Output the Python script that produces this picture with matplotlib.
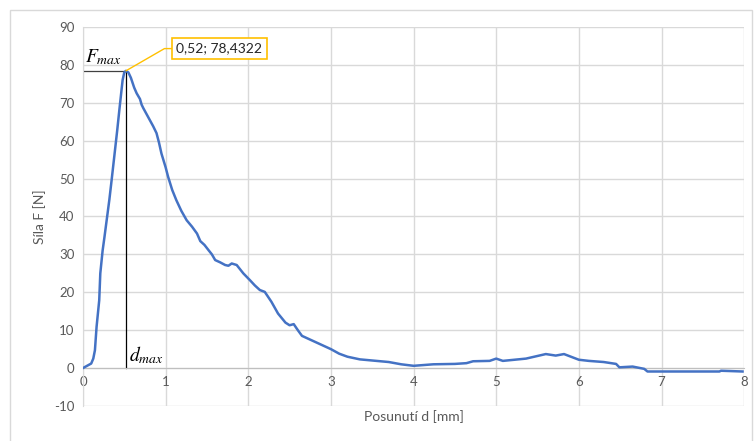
import matplotlib
matplotlib.use("Agg")
import matplotlib.pyplot as plt
from matplotlib.patches import Rectangle

# measured force-displacement curve
posunuti = [0, 0.05, 0.1, 0.125, 0.145, 0.165, 0.197, 0.21, 0.238, 0.26, 0.287, 0.32,
            0.347, 0.38, 0.415, 0.44, 0.46, 0.48, 0.5, 0.52, 0.55, 0.58, 0.62, 0.65,
            0.69, 0.71, 0.73, 0.77, 0.81, 0.85, 0.89, 0.92, 0.95, 1.0, 1.03, 1.08,
            1.13, 1.19, 1.255, 1.32, 1.38, 1.42, 1.47, 1.52, 1.56, 1.6, 1.66, 1.72,
            1.76, 1.8, 1.86, 1.94, 2.02, 2.08, 2.14, 2.2, 2.28, 2.36, 2.45, 2.5,
            2.55, 2.6, 2.65, 2.7, 2.8, 2.9, 3.0, 3.1, 3.2, 3.35, 3.5, 3.7, 3.85,
            4.0, 4.24, 4.5, 4.64, 4.72, 4.92, 5.0, 5.08, 5.36, 5.6, 5.72, 5.82,
            6.0, 6.12, 6.3, 6.45, 6.49, 6.65, 6.79, 6.83, 7.7, 7.72, 7.98]
sila = [0, 0.6, 1.2, 2.5, 4.7, 10.9, 17.9, 25.0, 31.0, 34.5, 39.0, 44.5,
        49.6, 56.0, 62.8, 68.0, 72.0, 76.0, 78.0, 78.4322, 78.0, 76.6, 74.0, 72.5,
        71.0, 69.5, 68.6, 67.0, 65.4, 63.8, 62.0, 59.5, 56.6, 53.0, 50.5, 47.0,
        44.3, 41.5, 39.0, 37.3, 35.5, 33.5, 32.5, 31.1, 30.0, 28.5, 27.9, 27.2,
        27.0, 27.6, 27.2, 25.0, 23.2, 21.8, 20.6, 20.1, 17.5, 14.4, 12.0, 11.3,
        11.6, 10.0, 8.5, 8.0, 7.0, 6.0, 5.0, 3.8, 3.0, 2.3, 2.0, 1.6, 1.0,
        0.6, 1.0, 1.1, 1.3, 1.8, 1.9, 2.5, 1.9, 2.5, 3.7, 3.3, 3.7,
        2.2, 1.9, 1.6, 1.1, 0.2, 0.4, -0.2, -0.9, -0.9, -0.7, -0.9]

d_max = 0.52
F_max = 78.4322

plt.rcParams['font.family'] = ['Lato', 'DejaVu Sans']
plt.rcParams['mathtext.fontset'] = 'stix'
plt.rcParams['axes.unicode_minus'] = False
grey = '#595959'

fig = plt.figure(figsize=(7.54, 4.41), dpi=100)
ax = fig.add_axes([0.110, 0.0794, 0.877, 0.8594])

# chart frame
fig.patches.append(Rectangle((10 / 754, -0.1), 742 / 754, 1.1 - 10 / 441,
                             transform=fig.transFigure, fill=False,
                             edgecolor='#d9d9d9', linewidth=1))

ax.plot(posunuti, sila, color='#4472C4', linewidth=1.8, zorder=3)

# guide lines to the maximum
ax.plot([0, d_max], [F_max, F_max], color='#404040', linewidth=0.9, zorder=2)
ax.plot([d_max, d_max], [0, F_max], color='black', linewidth=0.9, zorder=2)
ax.text(0.02, F_max + 1.0, r'$F_{max}$', fontsize=14, ha='left', va='bottom')
ax.text(d_max + 0.04, 0.6, r'$d_{max}$', fontsize=14, ha='left', va='bottom')

label = f"{d_max:.2f}; {F_max:.4f}".replace('.', ',')
ax.annotate(label, xy=(d_max, F_max), xytext=(1.13, 84.3),
            fontsize=10, color='#262626', va='center', ha='left',
            bbox=dict(boxstyle='square,pad=0.3', fc='white', ec='#FFC000', lw=1.2),
            arrowprops=dict(arrowstyle='-', color='#FFC000', lw=1,
                            connectionstyle='angle,angleA=0,angleB=30,rad=0',
                            shrinkA=0, shrinkB=0))

ax.set_xlim(0, 8)
ax.set_ylim(-10, 90)
ax.set_xticks(range(0, 9))
ax.set_yticks(range(-10, 91, 10))
ax.grid(True, color='#d9d9d9', linewidth=1)
ax.set_axisbelow(True)

for s in ['top', 'right']:
    ax.spines[s].set_visible(False)
ax.spines['bottom'].set_position(('data', 0))
ax.spines['bottom'].set_color('#bfbfbf')
ax.spines['left'].set_color('#d9d9d9')
ax.tick_params(length=0, colors=grey, labelsize=9.5, pad=6)

ax.set_xlabel('Posunutí d [mm]', color=grey, fontsize=10)
ax.set_ylabel('Síla F [N]', color=grey, fontsize=10, labelpad=6)
ax.xaxis.set_label_coords(0.5, -0.012)

fig.savefig('out.png', dpi=100)
